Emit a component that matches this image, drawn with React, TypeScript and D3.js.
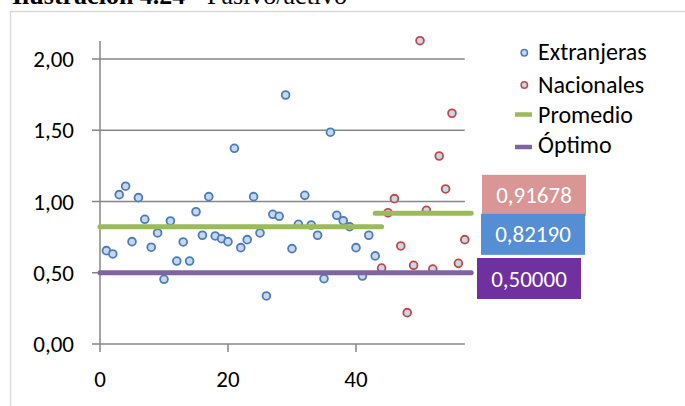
import React from 'react';
import * as d3 from 'd3';

// Pasivo/activo ratio per company, in order of appearance on the x axis
const extranjeras = [
  0.655, 0.632, 1.048, 1.107, 0.718, 1.027, 0.875, 0.679, 0.779, 0.454,
  0.863, 0.582, 0.716, 0.582, 0.928, 0.763, 1.034, 0.758, 0.739, 0.718,
  1.373, 0.676, 0.732, 1.034, 0.779, 0.337, 0.91, 0.896, 1.747, 0.669,
  0.84, 1.043, 0.835, 0.763, 0.458, 1.486, 0.903, 0.865, 0.823, 0.676,
  0.477, 0.763, 0.618,
];
const nacionales = [
  0.533, 0.921, 1.02, 0.688, 0.22, 0.552, 2.128, 0.938, 0.526, 1.319,
  1.088, 1.619, 0.566, 0.732,
];
const extStart = 1;
const nacStart = 44;

// Reference lines: [value, xFrom, xTo]
const promedioExt = { value: 0.8219, from: 0, to: 44 };
const promedioNac = { value: 0.91678, from: 43, to: 58 };
const optimo = { value: 0.5, from: 0, to: 58 };

const yTicks = [0, 0.5, 1, 1.5, 2];
const xTicks = [0, 20, 40];

const legendItems = [
  { label: 'Extranjeras', kind: 'dot', stroke: '#4a7ebb' },
  { label: 'Nacionales', kind: 'dot', stroke: '#be4b48' },
  { label: 'Promedio', kind: 'line', stroke: '#9bbb59' },
  { label: 'Óptimo', kind: 'line', stroke: '#8064a2' },
];

const FONT = 'Carlito, Calibri, Lato, sans-serif';
const comma = (s: string) => s.replace('.', ',');
const fmt2 = (v: number) => comma(d3.format('.2f')(v));
const fmt5 = (v: number) => comma(d3.format('.5f')(v));

export default function App() {
  const x = d3.scaleLinear().domain([0, 57]).range([100, 464.8]);
  const y = d3.scaleLinear().domain([0, 2.126]).range([344, 41]);
  const axisColor = '#868686';
  const dotFill = '#c9d6ec';

  const refLine = (r: { value: number; from: number; to: number }, color: string) => (
    <line
      x1={x(r.from)}
      x2={x(r.to)}
      y1={y(r.value)}
      y2={y(r.value)}
      stroke={color}
      strokeWidth={5}
      strokeLinecap="round"
    />
  );

  const labels = [
    { value: promedioNac.value, fill: '#d99694', left: 482, dy: -18 },
    { value: promedioExt.value, fill: '#558ed5', left: 481, dy: 7.5 },
    { value: optimo.value, fill: '#7030a0', left: 477, dy: 5.75 },
  ];

  return (
    <svg
      width={685}
      height={406}
      style={{ position: 'absolute', left: 0, top: 0, background: '#fff' }}
    >
      {/* caption above the chart frame */}
      <text x={12} y={4} fontFamily="'Liberation Serif', 'Times New Roman', serif" fontSize={26} fill="#000">
        <tspan fontWeight="bold">Ilustración 4.24</tspan>
        <tspan> - Pasivo/activo</tspan>
      </text>

      {/* chart frame */}
      <rect x={10.5} y={11.5} width={700} height={420} fill="#fff" stroke="#d9d9d9" strokeWidth={1.5} />

      {/* gridlines and y ticks */}
      {yTicks.map((t) => (
        <g key={t}>
          <line x1={92} x2={x(57)} y1={y(t)} y2={y(t)} stroke={axisColor} strokeWidth={1.5} />
          <text
            x={74}
            y={y(t)}
            dy="0.35em"
            textAnchor="end"
            fontFamily={FONT}
            fontSize={23}
            fill="#000"
          >
            {fmt2(t)}
          </text>
        </g>
      ))}

      {/* y axis */}
      <line x1={x(0)} x2={x(0)} y1={y(2.126)} y2={y(0)} stroke={axisColor} strokeWidth={1.5} />

      {/* x ticks */}
      {xTicks.map((t) => (
        <g key={t}>
          <line x1={x(t)} x2={x(t)} y1={y(0)} y2={y(0) + 8} stroke={axisColor} strokeWidth={1.5} />
          <text x={x(t)} y={387} textAnchor="middle" fontFamily={FONT} fontSize={23} fill="#000">
            {t}
          </text>
        </g>
      ))}

      {/* scatter points */}
      {extranjeras.map((v, i) => (
        <circle
          key={`e${i}`}
          cx={x(extStart + i)}
          cy={y(v)}
          r={3.9}
          fill={dotFill}
          stroke="#4a7ebb"
          strokeWidth={1.8}
        />
      ))}
      {nacionales.map((v, i) => (
        <circle
          key={`n${i}`}
          cx={x(nacStart + i)}
          cy={y(v)}
          r={3.9}
          fill={dotFill}
          stroke="#be4b48"
          strokeWidth={1.8}
        />
      ))}

      {/* average and optimum lines */}
      {refLine(promedioExt, '#9bbb59')}
      {refLine(promedioNac, '#9bbb59')}
      {refLine(optimo, '#8064a2')}

      {/* value labels */}
      {labels.map((l) => {
        const cy = y(l.value) + l.dy;
        return (
          <g key={l.fill}>
            <rect x={l.left} y={cy - 20.5} width={104} height={41} fill={l.fill} />
            <text
              x={l.left + 52}
              y={cy}
              dy="0.35em"
              textAnchor="middle"
              fontFamily={FONT}
              fontSize={23}
              fill="#fff"
            >
              {fmt5(l.value)}
            </text>
          </g>
        );
      })}

      {/* legend */}
      {legendItems.map((item, i) => {
        const rowY = [52.7, 85, 114.5, 147][i];
        const baseY = [60, 92.7, 122.7, 153][i];
        return (
          <g key={item.label}>
            {item.kind === 'dot' ? (
              <circle cx={524.3} cy={rowY} r={3.2} fill={dotFill} stroke={item.stroke} strokeWidth={1.5} />
            ) : (
              <line x1={515} x2={532} y1={rowY} y2={rowY} stroke={item.stroke} strokeWidth={4.5} />
            )}
            <text x={538} y={baseY} fontFamily={FONT} fontSize={24} fill="#000">
              {item.label}
            </text>
          </g>
        );
      })}
    </svg>
  );
}
